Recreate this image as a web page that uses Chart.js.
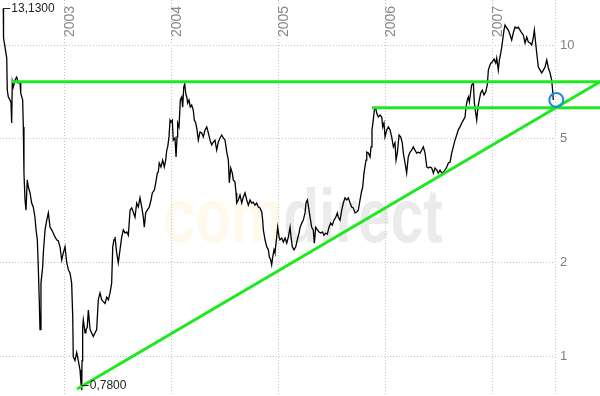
<!DOCTYPE html>
<html>
<head>
<meta charset="utf-8">
<script src="https://cdn.jsdelivr.net/npm/chart.js@4/dist/chart.umd.min.js"></script>
<style>
  html, body { margin: 0; padding: 0; background: #fff; }
  canvas { display: block; }
</style>
</head>
<body>
<canvas id="chart" width="600" height="396"></canvas>
<script>
// closing prices, x = date as decimal year
var dates = [
  2002.428,2002.430,2002.444,2002.460,2002.465,2002.475,2002.491,2002.500,2002.506,2002.512,
  2002.521,2002.537,2002.553,2002.568,2002.584,2002.591,2002.609,2002.615,2002.621,2002.631,
  2002.640,2002.652,2002.662,2002.678,2002.693,2002.708,2002.724,2002.734,2002.746,2002.755,
  2002.764,2002.771,2002.780,2002.796,2002.802,2002.818,2002.834,2002.849,2002.865,2002.880,
  2002.895,2002.911,2002.927,2002.942,2002.958,2002.974,2002.989,2003.005,2003.021,2003.036,
  2003.052,2003.067,2003.077,2003.082,2003.098,2003.114,2003.129,2003.145,2003.154,2003.161,
  2003.164,2003.170,2003.176,2003.192,2003.201,2003.213,2003.223,2003.239,2003.254,2003.269,
  2003.285,2003.301,2003.316,2003.332,2003.348,2003.363,2003.379,2003.395,2003.410,2003.426,
  2003.441,2003.451,2003.463,2003.472,2003.488,2003.503,2003.519,2003.535,2003.550,2003.566,
  2003.582,2003.597,2003.613,2003.628,2003.643,2003.659,2003.675,2003.690,2003.706,2003.722,
  2003.737,2003.746,2003.759,2003.774,2003.793,2003.809,2003.821,2003.840,2003.853,2003.868,
  2003.877,2003.886,2003.902,2003.918,2003.933,2003.946,2003.956,2003.965,2003.977,2003.987,
  2003.996,2004.008,2004.017,2004.033,2004.043,2004.052,2004.058,2004.071,2004.083,2004.096,
  2004.105,2004.115,2004.124,2004.133,2004.143,2004.152,2004.164,2004.176,2004.189,2004.204,
  2004.214,2004.227,2004.239,2004.251,2004.267,2004.283,2004.298,2004.314,2004.330,2004.345,
  2004.361,2004.376,2004.391,2004.407,2004.423,2004.438,2004.454,2004.470,2004.485,2004.501,
  2004.517,2004.532,2004.541,2004.554,2004.569,2004.578,2004.594,2004.604,2004.610,2004.625,
  2004.641,2004.657,2004.672,2004.688,2004.704,2004.719,2004.735,2004.750,2004.765,2004.781,
  2004.797,2004.812,2004.828,2004.844,2004.853,2004.859,2004.875,2004.891,2004.906,2004.915,
  2004.928,2004.937,2004.947,2004.959,2004.968,2004.984,2004.993,2005.006,2005.015,2005.031,
  2005.046,2005.062,2005.078,2005.093,2005.109,2005.118,2005.130,2005.146,2005.162,2005.177,
  2005.193,2005.202,2005.218,2005.233,2005.249,2005.258,2005.271,2005.286,2005.296,2005.311,
  2005.326,2005.336,2005.349,2005.364,2005.380,2005.396,2005.411,2005.426,2005.442,2005.457,
  2005.473,2005.489,2005.504,2005.520,2005.536,2005.551,2005.560,2005.576,2005.592,2005.607,
  2005.623,2005.639,2005.654,2005.670,2005.685,2005.700,2005.716,2005.732,2005.747,2005.763,
  2005.777,2005.788,2005.800,2005.819,2005.826,2005.841,2005.857,2005.866,2005.875,2005.887,
  2005.897,2005.910,2005.919,2005.934,2005.950,2005.966,2005.975,2005.987,2005.997,2006.013,
  2006.028,2006.044,2006.059,2006.075,2006.090,2006.100,2006.112,2006.128,2006.143,2006.158,
  2006.168,2006.184,2006.199,2006.214,2006.231,2006.246,2006.261,2006.277,2006.293,2006.308,
  2006.324,2006.340,2006.355,2006.371,2006.387,2006.402,2006.418,2006.433,2006.449,2006.464,
  2006.480,2006.495,2006.511,2006.527,2006.542,2006.558,2006.574,2006.589,2006.605,2006.620,
  2006.635,2006.651,2006.667,2006.682,2006.698,2006.714,2006.729,2006.745,2006.754,2006.766,
  2006.776,2006.785,2006.798,2006.807,2006.823,2006.832,2006.841,2006.854,2006.866,2006.878,
  2006.891,2006.906,2006.922,2006.938,2006.953,2006.963,2006.972,2006.985,2007.000,2007.016,
  2007.032,2007.041,2007.056,2007.066,2007.079,2007.088,2007.097,2007.109,2007.119,2007.135,
  2007.150,2007.166,2007.181,2007.196,2007.212,2007.228,2007.243,2007.259,2007.275,2007.290,
  2007.306,2007.322,2007.337,2007.353,2007.368,2007.384,2007.393,2007.402,2007.415,2007.430,
  2007.446,2007.462,2007.477,2007.493,2007.509,2007.524,2007.540,2007.555,2007.565,2007.570
];
var prices = [
  13.13,10.53,9.85,9.08,7.17,6.81,6.66,6.51,5.62,7.61,
  7.33,7.72,7.89,7.55,7.61,7.01,6.66,5.46,3.88,3.18,
  2.95,3.69,3.50,3.35,3.11,3.02,2.80,2.55,2.37,1.94,
  1.52,1.22,1.72,1.94,2.15,2.55,2.74,2.89,2.60,2.55,
  2.49,2.42,2.37,2.35,2.25,2.04,2.15,2.25,2.00,1.90,
  1.85,1.72,1.34,1.00,0.97,1.03,0.97,0.905,0.82,0.78,
  0.97,1.24,1.31,1.19,1.22,1.24,1.41,1.22,1.19,1.16,
  1.19,1.22,1.52,1.60,1.52,1.50,1.48,1.55,1.52,1.60,
  1.72,2.25,2.37,2.42,2.15,2.00,2.20,2.42,2.55,2.49,
  2.51,2.45,2.95,3.00,2.91,2.80,3.11,3.02,3.23,3.02,
  2.80,2.60,2.89,2.95,3.02,3.18,3.35,3.42,3.61,3.88,
  3.91,4.18,4.06,4.27,4.06,4.27,4.60,4.71,5.07,5.74,
  5.66,5.74,4.95,5.03,4.37,5.07,5.62,5.46,6.66,6.81,
  6.32,7.33,7.50,7.01,6.81,6.51,6.66,6.32,6.42,6.18,
  5.74,5.62,5.34,4.95,5.26,5.22,5.07,5.34,5.46,5.22,
  4.95,4.78,4.88,4.95,4.60,4.88,5.03,5.14,5.03,4.95,
  4.53,4.27,3.61,4.03,3.88,3.69,3.63,3.35,3.11,3.18,
  3.30,3.11,3.25,3.35,3.18,3.06,3.18,3.11,3.13,3.06,
  3.11,3.02,3.00,2.91,2.74,2.55,2.37,2.25,2.20,2.09,
  2.04,1.97,2.09,2.20,2.15,2.42,2.60,2.42,2.37,2.40,
  2.33,2.40,2.31,2.42,2.60,2.42,2.25,2.20,2.25,2.37,
  2.49,2.59,2.68,2.74,2.89,3.11,3.18,2.95,2.80,2.60,
  2.55,2.31,2.60,2.55,2.51,2.49,2.51,2.45,2.49,2.47,
  2.60,2.68,2.64,2.74,2.80,2.89,2.80,2.74,2.95,3.11,
  3.23,3.18,3.23,3.11,3.02,3.00,2.89,2.91,2.95,3.18,
  3.38,3.50,3.88,4.27,4.53,4.50,4.37,4.71,5.34,5.74,
  6.18,6.28,6.05,5.87,5.96,5.87,5.46,5.62,5.07,5.34,
  5.46,5.34,5.07,4.71,4.85,4.27,4.50,5.14,5.07,4.85,
  4.50,4.18,3.88,4.37,4.53,4.60,4.71,4.60,4.50,4.53,
  4.50,4.60,4.71,4.50,4.06,4.03,4.06,4.03,3.88,4.03,
  3.97,3.88,3.97,3.88,3.91,3.97,4.06,4.18,4.21,4.50,
  4.71,4.95,5.14,5.34,5.46,5.62,5.74,5.87,6.32,6.66,
  6.81,6.56,7.07,7.44,7.55,6.51,6.18,5.74,6.32,6.66,
  7.01,7.17,6.91,7.07,7.44,8.31,8.50,8.75,8.82,9.02,
  8.75,9.08,8.31,8.95,9.43,9.85,10.38,11.17,11.59,11.34,
  11.17,10.77,10.38,10.93,11.42,11.34,11.42,11.17,10.93,10.77,
  10.15,10.61,10.22,10.15,10.00,10.61,11.17,10.38,9.43,8.50,
  8.31,8.13,8.31,8.50,8.95,8.44,8.13,7.72,7.07,6.66
];

// green lines drawn on the chart
var upperLineX = [2002.509, 2008.007];
var upperLineY = [7.62, 7.62];
var lowerLineX = [2005.875, 2008.007];
var lowerLineY = [6.29, 6.29];
var trendLineX = [2003.117, 2008.007];
var trendLineY = [0.786, 7.62];

// blue circle
var markerX = [2007.598];
var markerY = [6.66];

var yearTicks = [2003, 2004, 2005, 2006, 2007];
var priceTicks = [1, 2, 5, 10];

var xMin = 2002.397, xMax = 2007.586;
var yMin = 0.7466, yMax = 13.95;

var FONT = '"Liberation Sans", Arial, sans-serif';

function points(xs, ys) {
  return xs.map(function(x, i) { return {x: x, y: ys[i]}; });
}

function noPadding(s) {
  s.paddingLeft = 0; s.paddingRight = 0; s.paddingTop = 0; s.paddingBottom = 0;
}

var watermark = {
  id: 'watermark',
  beforeDraw: function(chart) {
    var ctx = chart.ctx;
    ctx.save();
    ctx.translate(163, 242);
    ctx.scale(0.77, 1);
    ctx.font = 'bold 76px ' + FONT;
    ctx.textBaseline = 'alphabetic';
    ctx.fillStyle = '#fef9ea';
    ctx.fillText('com', 0, 0);
    var w = ctx.measureText('com').width;
    ctx.fillStyle = '#ebebeb';
    ctx.fillText('direct', w, 0);
    ctx.restore();
  }
};

// max / min value labels
var extremes = {
  id: 'extremes',
  afterDatasetsDraw: function(chart) {
    var ctx = chart.ctx;
    var meta = chart.getDatasetMeta(3);
    var hi = prices.indexOf(Math.max.apply(null, prices));
    var lo = prices.indexOf(Math.min.apply(null, prices));
    ctx.save();
    ctx.font = '12px ' + FONT;
    ctx.fillStyle = '#222';
    ctx.strokeStyle = '#222';
    ctx.lineWidth = 1;
    ctx.textBaseline = 'middle';
    [hi, lo].forEach(function(i) {
      var p = meta.data[i];
      var y = Math.min(Math.round(p.y), 385) + 0.5;
      ctx.beginPath();
      ctx.moveTo(p.x, y);
      ctx.lineTo(p.x + 7, y);
      ctx.stroke();
      ctx.fillText(prices[i].toFixed(4).replace('.', ','), p.x + 8, y);
    });
    ctx.restore();
  }
};

var green = '#1fe81f';

new Chart(document.getElementById('chart'), {
  type: 'line',
  data: {
    datasets: [
      {
        data: points(markerX, markerY),
        showLine: false,
        pointRadius: 7,
        pointBorderWidth: 2,
        pointBorderColor: '#1e88e8',
        pointBackgroundColor: 'rgba(0,0,0,0)',
        clip: false,
        order: 0
      },
      {
        data: points(upperLineX, upperLineY),
        borderColor: green, borderWidth: 3, pointRadius: 0, clip: false, order: 1
      },
      {
        data: points(lowerLineX, lowerLineY),
        borderColor: green, borderWidth: 3, pointRadius: 0, clip: false, order: 1
      },
      {
        data: points(dates, prices),
        borderColor: '#000', borderWidth: 1.3, pointRadius: 0, tension: 0, order: 3
      },
      {
        data: points(trendLineX, trendLineY),
        borderColor: green, borderWidth: 3, pointRadius: 0, clip: false, order: 1
      }
    ]
  },
  options: {
    responsive: false,
    animation: false,
    events: [],
    layout: { padding: 0, autoPadding: false },
    plugins: { legend: { display: false }, tooltip: { enabled: false } },
    scales: {
      x: {
        type: 'linear',
        position: 'top',
        min: xMin,
        max: xMax,
        bounds: 'data',
        afterBuildTicks: function(s) {
          s.ticks = yearTicks.map(function(v) { return {value: v}; }).concat([{value: xMax}]);
          s.min = xMin; s.max = xMax;
        },
        afterFit: function(s) { s.height = 0; noPadding(s); },
        grid: { color: '#c0c0c0', lineWidth: 1, drawTicks: false },
        border: { display: false, dash: [1, 2] },
        ticks: {
          mirror: true,
          padding: 37,
          labelOffset: 6,
          minRotation: 90,
          maxRotation: 90,
          autoSkip: false,
          color: '#888',
          font: { family: FONT, size: 14 },
          callback: function(v) { return Number.isInteger(v) ? String(v) : ''; }
        }
      },
      y: {
        type: 'logarithmic',
        position: 'right',
        min: yMin,
        max: yMax,
        bounds: 'data',
        afterBuildTicks: function(s) {
          s.ticks = priceTicks.map(function(v) { return {value: v}; });
          s.min = yMin; s.max = yMax;
        },
        afterFit: function(s) { s.width = 45; noPadding(s); },
        grid: { color: '#c4c2cc', lineWidth: 1, drawTicks: false },
        border: { display: false, dash: [1, 2] },
        ticks: {
          padding: 5,
          color: '#808080',
          font: { family: FONT, size: 13 },
          callback: function(v) { return String(v); }
        }
      }
    }
  },
  plugins: [watermark, extremes]
});
</script>
</body>
</html>
